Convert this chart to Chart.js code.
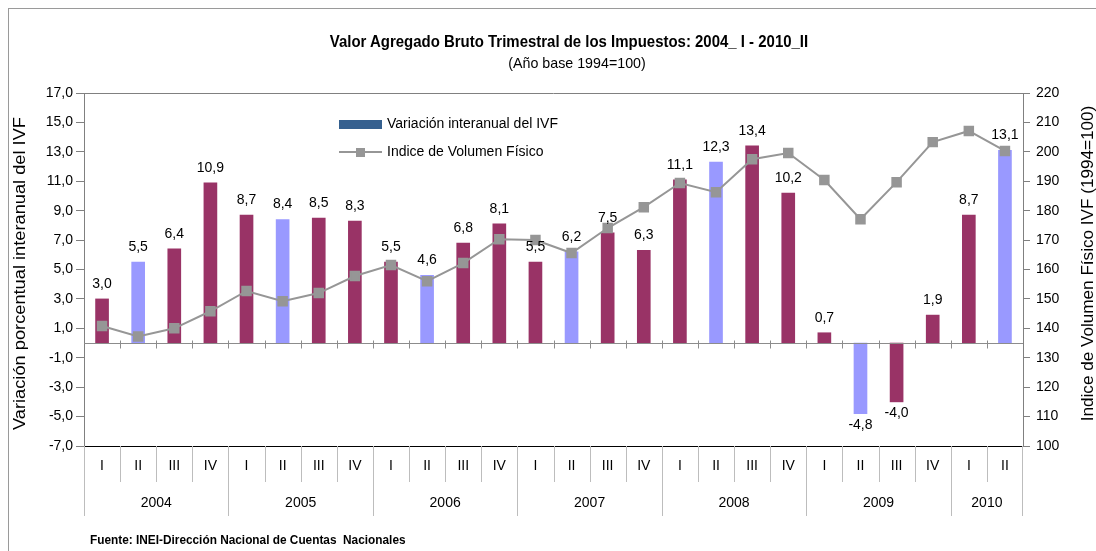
<!DOCTYPE html>
<html>
<head>
<meta charset="utf-8">
<script src="https://cdn.jsdelivr.net/npm/chart.js@4.4.1/dist/chart.umd.min.js"></script>
<style>
  body { margin: 0; background: #fff; }
  #wrap { position: relative; width: 1096px; height: 551px; overflow: hidden; }
  #frame { position: absolute; left: 8px; top: 8px; width: 1200px; height: 700px; border: 1px solid #9a9a9a; }
  .txt { position: absolute; font-family: 'Liberation Sans', Arial, sans-serif; color: #000; white-space: nowrap; }
  #title { left: 0; width: 1138px; top: 32px; text-align: center; font-size: 17px; font-weight: bold; transform: scaleX(0.88); }
  #subtitle { left: 0; width: 1154px; top: 54px; text-align: center; font-size: 15px; transform: scaleX(0.95); }
  #source { left: 90px; top: 532px; font-size: 13px; font-weight: bold; transform: scaleX(0.91); transform-origin: left center; }
  canvas { position: absolute; left: 0; top: 0; }
</style>
</head>
<body>
<div id="wrap">
  <div id="frame"></div>
  <canvas id="combo" width="1096" height="551"></canvas>
  <div class="txt" id="title">Valor Agregado Bruto Trimestral de los Impuestos: 2004_ I - 2010_II</div>
  <div class="txt" id="subtitle">(Año base 1994=100)</div>
  <div class="txt" id="source">Fuente: INEI-Dirección Nacional de Cuentas&nbsp; Nacionales</div>
</div>
<script>
// quarters and years
var quarters = ["I", "II", "III", "IV", "I", "II", "III", "IV", "I", "II", "III", "IV",
  "I", "II", "III", "IV", "I", "II", "III", "IV", "I", "II", "III", "IV", "I", "II"];
var years = ["2004", "2005", "2006", "2007", "2008", "2009", "2010"];
var quartersInYear = [4, 4, 4, 4, 4, 4, 2];

// variacion interanual del IVF (%)
var variacion = [3.0, 5.5, 6.4, 10.9, 8.7, 8.4, 8.5, 8.3, 5.5, 4.6, 6.8, 8.1,
  5.5, 6.2, 7.5, 6.3, 11.1, 12.3, 13.4, 10.2, 0.7, -4.8, -4.0, 1.9, 8.7, 13.1];
// indice de volumen fisico (1994=100)
var indice = [140.8, 137.2, 140.0, 145.8, 152.7, 149.2, 152.0, 157.8, 161.5, 156.0, 162.2, 170.3,
  170.0, 165.6, 174.1, 181.2, 189.4, 186.3, 197.5, 199.6, 190.4, 177.1, 189.7, 203.3, 207.1, 200.3];

var leftTicks = [-7, -5, -3, -1, 1, 3, 5, 7, 9, 11, 13, 15, 17];
var rightTicks = [100, 110, 120, 130, 140, 150, 160, 170, 180, 190, 200, 210, 220];

var FONT = "'Liberation Sans', Arial, sans-serif";
var MAROON = "#993366", LILAC = "#9999ff", GREY = "#969696";

var barColors = quarters.map(function (q) { return q === "II" ? LILAC : MAROON; });

function coma(v) { return v.toFixed(1).replace(".", ","); }

var extras = {
  id: "extras",
  afterDraw: function (chart) {
    var ctx = chart.ctx, a = chart.chartArea;
    var x = chart.scales.x, y = chart.scales.y;
    var w = x.getPixelForValue(1) - x.getPixelForValue(0);
    var y0 = Math.round(y.getPixelForValue(0)) + 0.5;
    ctx.save();

    // top frame line
    ctx.strokeStyle = "#808080";
    ctx.lineWidth = 1;
    ctx.beginPath();
    ctx.moveTo(a.left, a.top + 0.5);
    ctx.lineTo(a.right, a.top + 0.5);
    ctx.stroke();

    // zero line with small tick marks
    ctx.strokeStyle = "#8c8c8c";
    ctx.beginPath();
    ctx.moveTo(a.left, y0);
    ctx.lineTo(a.right, y0);
    for (var i = 1; i < quarters.length; i++) {
      var bx = Math.round(x.getPixelForValue(i) - w / 2) + 0.5;
      ctx.moveTo(bx, y0 - 3);
      ctx.lineTo(bx, y0 + 5);
    }
    ctx.stroke();

    // separators under the axis
    ctx.strokeStyle = "#bdbdbd";
    ctx.beginPath();
    var idx = 0, yearStarts = [0];
    quartersInYear.forEach(function (n) { idx += n; yearStarts.push(idx); });
    for (var j = 0; j <= quarters.length; j++) {
      var sx = Math.round(x.getPixelForValue(j) - w / 2) + 0.5;
      if (j === quarters.length) sx = Math.round(x.getPixelForValue(j - 1) + w / 2) - 0.5;
      var long = yearStarts.indexOf(j) >= 0;
      ctx.moveTo(sx, a.bottom);
      ctx.lineTo(sx, a.bottom + (long ? 70 : 36));
    }
    ctx.stroke();

    // year labels
    ctx.fillStyle = "#000";
    ctx.font = "14px " + FONT;
    ctx.textAlign = "center";
    ctx.textBaseline = "middle";
    years.forEach(function (yr, k) {
      var first = yearStarts[k], last = yearStarts[k + 1] - 1;
      var cx = (x.getPixelForValue(first) + x.getPixelForValue(last)) / 2;
      ctx.fillText(yr, cx, a.bottom + 57);
    });

    // value labels on bars
    var bars = chart.getDatasetMeta(1).data;
    bars.forEach(function (el, k) {
      var v = variacion[k];
      if (v >= 0) ctx.fillText(coma(v), el.x, el.y - 15);
      else ctx.fillText(coma(v), el.x, el.y + 11);
    });

    // legend
    var lx = 339, ly1 = 124, ly2 = 152;
    ctx.fillStyle = "#35608f";
    ctx.fillRect(lx, ly1 - 4, 43, 9);
    ctx.strokeStyle = GREY;
    ctx.lineWidth = 2;
    ctx.beginPath();
    ctx.moveTo(lx, ly2);
    ctx.lineTo(lx + 43, ly2);
    ctx.stroke();
    ctx.fillStyle = GREY;
    ctx.fillRect(lx + 17, ly2 - 4, 9, 9);
    ctx.fillStyle = "#000";
    ctx.textAlign = "left";
    ctx.fillText("Variación interanual del IVF", lx + 48, ly1);
    ctx.fillText("Indice de Volumen Físico", lx + 48, ly2);

    // axis titles (stretched along the text to mimic a narrow face)
    ctx.textAlign = "center";
    ctx.font = "16px " + FONT;
    ctx.save();
    ctx.translate(21, a.top + (a.bottom - a.top) / 2 + 4);
    ctx.rotate(-Math.PI / 2);
    ctx.scale(1.14, 1);
    ctx.fillText("Variación porcentual interanual del IVF", 0, 0);
    ctx.restore();
    ctx.save();
    ctx.translate(1089, a.top + (a.bottom - a.top) / 2 - 6);
    ctx.rotate(-Math.PI / 2);
    ctx.scale(1.07, 1);
    ctx.fillText("Indice de Volumen Físico IVF (1994=100)", 0, 0);
    ctx.restore();

    ctx.restore();
  }
};

new Chart(document.getElementById("combo"), {
  type: "bar",
  data: {
    labels: quarters,
    datasets: [
      {
        type: "line",
        label: "Indice de Volumen Físico",
        data: indice,
        yAxisID: "y1",
        borderColor: GREY,
        backgroundColor: GREY,
        borderWidth: 2,
        pointStyle: "rect",
        pointRadius: 6,
        pointHoverRadius: 6,
        tension: 0,
        order: 0
      },
      {
        label: "Variación interanual del IVF",
        data: variacion,
        yAxisID: "y",
        backgroundColor: barColors,
        barThickness: 13,
        order: 1
      }
    ]
  },
  options: {
    responsive: false,
    animation: false,
    layout: { padding: { top: 93, bottom: 0, left: 0, right: 0 } },
    plugins: {
      legend: { display: false },
      tooltip: { enabled: false }
    },
    scales: {
      x: {
        grid: { display: false, drawTicks: false },
        border: { display: true, color: "#000" },
        ticks: { color: "#000", padding: 12, font: { family: FONT, size: 14 }, maxRotation: 0, autoSkip: false },
        afterFit: function (s) { s.height = 105; }
      },
      y: {
        position: "left",
        min: -7,
        max: 17,
        afterBuildTicks: function (s) { s.ticks = leftTicks.map(function (v) { return { value: v }; }); },
        grid: { drawOnChartArea: false, tickLength: 8, color: "#808080" },
        border: { color: "#808080" },
        ticks: { color: "#000", padding: 3, font: { family: FONT, size: 14 }, callback: function (v) { return coma(v); } },
        afterFit: function (s) { s.width = 84; }
      },
      y1: {
        position: "right",
        min: 100,
        max: 220,
        afterBuildTicks: function (s) { s.ticks = rightTicks.map(function (v) { return { value: v }; }); },
        grid: { drawOnChartArea: false, tickLength: 7, color: "#808080" },
        border: { color: "#808080" },
        ticks: { color: "#000", padding: 6, font: { family: FONT, size: 14 } },
        afterFit: function (s) { s.width = 73; }
      }
    }
  },
  plugins: [extras]
});
</script>
</body>
</html>
